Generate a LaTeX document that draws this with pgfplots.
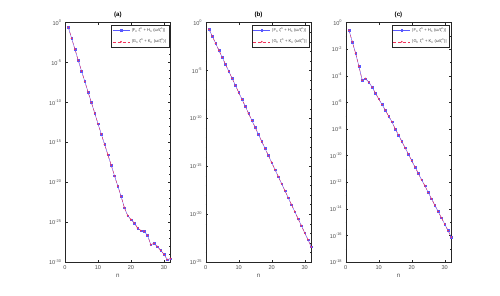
\documentclass[border=0pt]{standalone}
\usepackage{fontspec}
\setmainfont{Liberation Sans}
\usepackage{pgfplots}
\usepackage{pgfplotstable}
\pgfplotsset{compat=1.18}

\pgfplotstableread{
n f g
1 2.63e-1 2.63e-1
2 1.10e-2 1.10e-2
3 4.68e-4 4.68e-4
4 1.95e-5 1.95e-5
5 8.91e-7 8.91e-7
6 4.17e-8 4.17e-8
7 1.95e-9 1.95e-9
8 9.77e-11 9.77e-11
9 4.57e-12 4.57e-12
10 2.09e-13 2.09e-13
11 1.07e-14 1.07e-14
12 5.37e-16 5.37e-16
13 2.75e-17 2.75e-17
14 1.41e-18 1.41e-18
15 6.46e-20 6.46e-20
16 3.31e-21 3.31e-21
17 1.66e-22 1.66e-22
18 6.46e-24 6.46e-24
19 6.46e-25 6.46e-25
20 2.04e-25 2.04e-25
21 7.76e-26 7.76e-26
22 1.86e-26 1.86e-26
23 8.51e-27 8.51e-27
24 6.92e-27 6.92e-27
25 2.19e-27 2.19e-27
26 1.51e-28 1.51e-28
27 2.19e-28 2.19e-28
28 8.51e-29 8.51e-29
29 2.88e-29 2.88e-29
30 9.12e-30 9.12e-30
31 2.00e-30 2.00e-30
32 2.69e-30 2.69e-30
}\tableA

\pgfplotstableread{
n f g
1 2.04e-1 2.04e-1
2 3.78e-2 3.78e-2
3 6.98e-3 6.98e-3
4 1.29e-3 1.29e-3
5 2.39e-4 2.39e-4
6 4.42e-5 4.42e-5
7 8.17e-6 8.17e-6
8 1.51e-6 1.51e-6
9 2.79e-7 2.79e-7
10 5.16e-8 5.16e-8
11 9.55e-9 9.55e-9
12 1.77e-9 1.77e-9
13 3.27e-10 3.27e-10
14 6.04e-11 6.04e-11
15 1.12e-11 1.12e-11
16 2.07e-12 2.07e-12
17 3.82e-13 3.82e-13
18 7.06e-14 7.06e-14
19 1.31e-14 1.31e-14
20 2.42e-15 2.42e-15
21 4.47e-16 4.47e-16
22 8.26e-17 8.26e-17
23 1.53e-17 1.53e-17
24 2.82e-18 2.82e-18
25 5.22e-19 5.22e-19
26 9.66e-20 9.66e-20
27 1.79e-20 1.79e-20
28 3.30e-21 3.30e-21
29 6.11e-22 6.11e-22
30 1.13e-22 1.13e-22
31 2.09e-23 2.09e-23
32 3.86e-24 3.86e-24
}\tableB

\pgfplotstableread{
n f g
1 2.69e-1 2.69e-1
2 3.55e-2 3.55e-2
3 5.01e-3 5.01e-3
4 5.25e-4 5.25e-4
5 4.68e-5 4.68e-5
6 6.17e-5 6.17e-5
7 3.31e-5 3.31e-5
8 1.41e-5 1.41e-5
9 5.01e-6 5.01e-6
10 1.86e-6 1.86e-6
11 6.92e-7 6.92e-7
12 2.63e-7 2.63e-7
13 9.33e-8 9.33e-8
14 3.55e-8 3.55e-8
15 1.02e-8 1.02e-8
16 3.63e-9 3.63e-9
17 1.15e-9 1.15e-9
18 3.89e-10 3.89e-10
19 1.29e-10 1.29e-10
20 4.27e-11 4.27e-11
21 1.38e-11 1.38e-11
22 4.57e-12 4.57e-12
23 1.51e-12 1.51e-12
24 5.37e-13 5.37e-13
25 1.70e-13 1.70e-13
26 5.62e-14 5.62e-14
27 1.91e-14 1.91e-14
28 6.31e-15 6.31e-15
29 2.14e-15 2.14e-15
30 7.08e-16 7.08e-16
31 2.34e-16 2.34e-16
32 7.41e-17 7.41e-17
}\tableC

\definecolor{axgray}{gray}{0.15}
\definecolor{lblue}{rgb}{0.35,0.35,1}
\definecolor{mred}{rgb}{0.95,0.2,0.35}

\pgfplotsset{
  myax/.style={
    scale only axis,
    width=105.6pt, height=239.4pt,
    anchor=south west,
    log basis y=10,
    xmin=0, xmax=32,
    xtick={0,10,20,30},
    axis line style={axgray, line width=0.4pt},
    tick style={axgray, line width=0.3pt},
    major tick length=2.5pt,
    minor tick length=1.4pt,
    tick align=inside,
    ticklabel style={font=\fontsize{5.6}{6.5}\selectfont, text=black!70},
    xticklabel={\pgfmathprintnumber[assume math mode=true]{\tick}},
    yticklabel={10\textsuperscript{\pgfmathprintnumber[assume math mode=true]{\tick}}},
    xlabel={n},
    xlabel style={font=\fontsize{6.2}{7}\selectfont, text=black!70, yshift=2pt},
    title style={font=\fontsize{6.2}{7}\selectfont\bfseries, yshift=-4.5pt},
    legend style={at={(rel axis cs:0.985,0.992)}, anchor=north east,
      font=\fontsize{4.1}{4.8}\selectfont, draw=axgray, line width=0.3pt,
      inner sep=1pt, row sep=2.5pt, text=black!75},
    legend cell align=left,
  },
  fser/.style={lblue, line width=0.4pt, mark=square*, mark size=0.85pt, mark options={solid, fill=lblue}},
  gser/.style={mred, line width=0.4pt, densely dashed, mark=*, mark size=0.65pt, mark options={solid, fill=mred}},
}

\newcommand{\legF}{|F\textsubscript{n} ζ\textsuperscript{n} + H\textsubscript{n} (ω/ζ\textsuperscript{n})|}
\newcommand{\legG}{|G\textsubscript{n} ζ\textsuperscript{n} + K\textsubscript{n} (ω/ζ\textsuperscript{n})|}

\begin{document}
\begin{tikzpicture}
\path[use as bounding box] (0,0) rectangle (500pt,295pt);

\begin{semilogyaxis}[myax, at={(65pt,33pt)}, title={(a)},
  ymin=1e-30, ymax=1e0,
  ytick={1e0,1e-5,1e-10,1e-15,1e-20,1e-25,1e-30},
  minor ytick={1e-1,1e-2,1e-3,1e-4,1e-6,1e-7,1e-8,1e-9,1e-11,1e-12,1e-13,1e-14,1e-16,1e-17,1e-18,1e-19,1e-21,1e-22,1e-23,1e-24,1e-26,1e-27,1e-28,1e-29}]
\addplot[fser] table[x=n,y=f] {\tableA};
\addlegendentry{\legF}
\addplot[gser] table[x=n,y=g] {\tableA};
\addlegendentry{\legG}
\end{semilogyaxis}

\begin{semilogyaxis}[myax, at={(205.7pt,33pt)}, title={(b)},
  ymin=1e-25, ymax=1e0,
  ytick={1e0,1e-5,1e-10,1e-15,1e-20,1e-25},
  minor ytick={1e-1,1e-2,1e-3,1e-4,1e-6,1e-7,1e-8,1e-9,1e-11,1e-12,1e-13,1e-14,1e-16,1e-17,1e-18,1e-19,1e-21,1e-22,1e-23,1e-24}]
\addplot[fser] table[x=n,y=f] {\tableB};
\addlegendentry{\legF}
\addplot[gser] table[x=n,y=g] {\tableB};
\addlegendentry{\legG}
\end{semilogyaxis}

\begin{semilogyaxis}[myax, at={(345.7pt,33pt)}, title={(c)},
  ymin=1e-18, ymax=1e0,
  ytick={1e0,1e-2,1e-4,1e-6,1e-8,1e-10,1e-12,1e-14,1e-16,1e-18},
  minor ytick={1e-1,1e-3,1e-5,1e-7,1e-9,1e-11,1e-13,1e-15,1e-17}]
\addplot[fser] table[x=n,y=f] {\tableC};
\addlegendentry{\legF}
\addplot[gser] table[x=n,y=g] {\tableC};
\addlegendentry{\legG}
\end{semilogyaxis}
\end{tikzpicture}
\end{document}
